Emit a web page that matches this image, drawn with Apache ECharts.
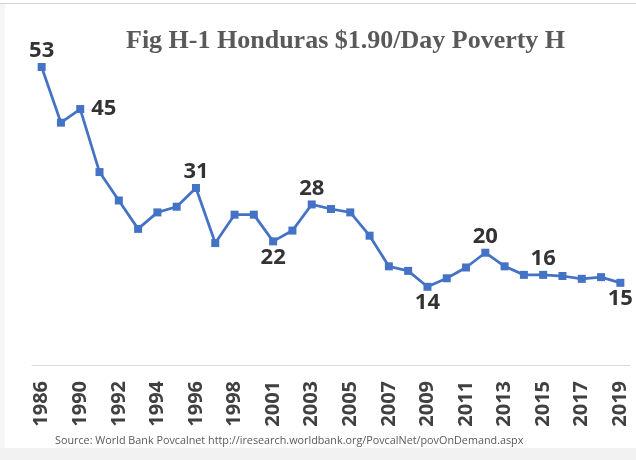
<!DOCTYPE html>
<html>
<head>
<meta charset="utf-8">
<script src="https://cdn.jsdelivr.net/npm/echarts@6/dist/echarts.min.js"></script>
<style>
html,body{margin:0;padding:0;background:#fff;}
#c{width:636px;height:460px;}
</style>
</head>
<body>
<div id="c"></div>
<script>
const years = ['1986','1989','1990','1991','1992','1993','1994','1995','1996','1997','1998','1999','2001','2002','2003','2004','2005','2006','2007','2008','2009','2010','2011','2012','2013','2014','2015','2016','2017','2018','2019'];
const poverty = [52.6,42.8,45.2,34.1,29.1,24.1,27.0,28.0,31.3,21.6,26.6,26.6,21.9,23.8,28.4,27.6,27.0,22.9,17.5,16.7,13.9,15.4,17.3,19.9,17.5,16.0,16.0,15.8,15.3,15.6,14.6];
const titleText = 'Fig H-1 Honduras $1.90/Day Poverty H';
const sourceText = 'Source: World Bank Povcalnet http://iresearch.worldbank.org/PovcalNet/povOnDemand.aspx';

// label placement (style only)
const labelPlacement = {'1986':'top','1990':'right','1996':'top','2001':'bottom','2003':'top','2009':'bottom','2012':'top','2015':'top','2019':'bottom'};

const seriesData = years.map((y, i) => {
  const pos = labelPlacement[y];
  if (!pos) return poverty[i];
  return {
    value: poverty[i],
    label: { show: true, position: pos, distance: pos === 'right' ? 7 : 1 }
  };
});

const chart = echarts.init(document.getElementById('c'), null, {renderer: 'canvas'});
chart.setOption({
  animation: false,
  backgroundColor: '#ffffff',
  title: {
    text: titleText,
    left: 121,
    top: 23,
    textStyle: {fontFamily: 'Liberation Serif', fontWeight: 'bold', fontSize: 26, color: '#595959'}
  },
  grid: {left: 32, right: 6, top: 25, bottom: 92},
  xAxis: {
    type: 'category',
    data: years,
    boundaryGap: true,
    axisLine: {lineStyle: {color: '#d9d9d9', width: 1}},
    axisTick: {show: false},
    axisLabel: {
      interval: 1,
      rotate: 90,
      margin: 13,
      fontFamily: 'Open Sans',
      fontWeight: 'bold',
      fontSize: 20,
      color: '#404040'
    }
  },
  yAxis: {
    type: 'value',
    min: -0.4,
    max: 60,
    show: false,
    splitLine: {show: false}
  },
  series: [{
    type: 'line',
    data: seriesData,
    symbol: 'rect',
    symbolSize: 8,
    lineStyle: {color: '#4472C4', width: 2.75},
    itemStyle: {color: '#4472C4'},
    label: {
      show: false,
      fontFamily: 'Open Sans',
      fontWeight: 'bold',
      fontSize: 22,
      color: '#333333',
      formatter: p => Math.round(p.value)
    }
  }],
  graphic: [
    {type: 'rect', left: 0, top: 448, shape: {width: 636, height: 12}, style: {fill: '#f2f2f2'}, silent: true},
    {type: 'rect', left: 0, top: 4, shape: {width: 5, height: 444}, style: {fill: '#f6f6f6'}, silent: true},
    {type: 'line', shape: {x1: 0, y1: 3.5, x2: 636, y2: 3.5}, style: {stroke: '#d4d4d4', lineWidth: 1}, silent: true},
    {type: 'text', left: 55, top: 435, style: {text: sourceText, fontFamily: 'Open Sans', fontSize: 10.8, fill: '#595959'}, silent: true}
  ]
});
</script>
</body>
</html>
